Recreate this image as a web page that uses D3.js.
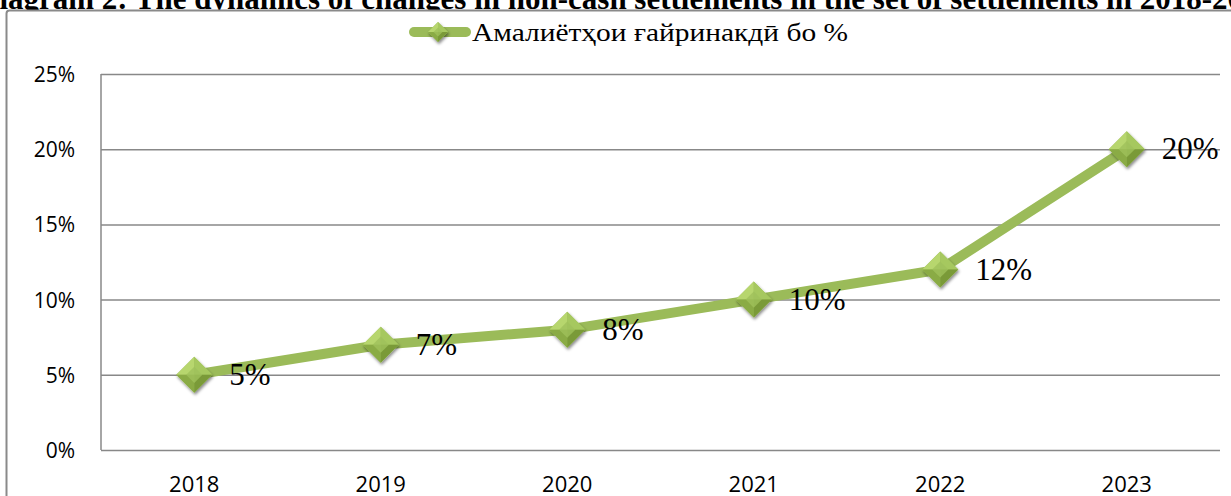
<!DOCTYPE html>
<html>
<head>
<meta charset="utf-8">
<script src="https://cdn.jsdelivr.net/npm/d3@7"></script>
<style>
  html, body { margin: 0; padding: 0; background: #fff; overflow: hidden; }
  svg { display: block; }
</style>
</head>
<body>
<div id="chart"></div>
<script>
var width = 1231,
    height = 496;

var titleText = "Diagram 2: The dynamics of changes in non-cash settlements in the set of settlements in 2018-2023";
var seriesName = "Амалиётҳои ғайринакдӣ бо %";
var years = ["2018", "2019", "2020", "2021", "2022", "2023"];
var shares = [0.05, 0.07, 0.08, 0.10, 0.12, 0.20];
var yTicks = [0, 0.05, 0.10, 0.15, 0.20, 0.25];

var lineGreen = "#9bbb59";
var serif = "'Liberation Serif', 'DejaVu Serif', 'Times New Roman', serif";

var margin = {top: 74, right: 11, bottom: 46, left: 101};

var svg = d3.select("#chart").append("svg")
    .attr("width", width)
    .attr("height", height);

var defs = svg.append("defs");

var shadow = defs.append("filter")
    .attr("id", "shadow")
    .attr("x", "-50%").attr("y", "-50%")
    .attr("width", "200%").attr("height", "200%");
shadow.append("feDropShadow")
    .attr("dx", 1).attr("dy", 2)
    .attr("stdDeviation", 1.5)
    .attr("flood-color", "#000")
    .attr("flood-opacity", 0.45);

// title, cut off by the top of the picture
svg.append("text")
    .attr("x", -23)
    .attr("y", 9)
    .style("font-family", serif)
    .style("font-weight", "bold")
    .style("font-size", "31px")
    .text(titleText);

// chart frame
svg.append("rect")
    .attr("x", 6.5)
    .attr("y", 10.5)
    .attr("width", 1240)
    .attr("height", 500)
    .attr("rx", 3)
    .attr("fill", "#fff")
    .attr("stroke", "#8a8a8a")
    .attr("stroke-width", 2);

var x = d3.scalePoint()
    .domain(years)
    .range([margin.left, width - margin.right])
    .padding(0.5);

var y = d3.scaleLinear()
    .domain([0, 0.25])
    .range([height - margin.bottom, margin.top]);

var fmt = d3.format(".0%");

// gridlines
var grid = svg.append("g")
    .attr("transform", "translate(" + margin.left + ",0)")
    .call(d3.axisLeft(y).tickValues(yTicks).tickSize(-(width - margin.right - margin.left)).tickFormat(""));
grid.select(".domain").remove();
grid.selectAll(".tick line")
    .attr("stroke", "#888")
    .attr("stroke-width", 1.5);

// y axis line and labels
svg.append("line")
    .attr("x1", margin.left).attr("x2", margin.left)
    .attr("y1", y(0.25)).attr("y2", y(0))
    .attr("stroke", "#888")
    .attr("stroke-width", 1.5);

svg.append("g")
  .selectAll("text")
    .data(yTicks)
  .enter().append("text")
    .attr("x", 75)
    .attr("y", function(d) { return y(d) + 8; })
    .attr("text-anchor", "end")
    .style("font-family", "'Open Sans', sans-serif")
    .style("font-size", "21px")
    .style("fill", "#000")
    .text(fmt);

// x labels
svg.append("g")
  .selectAll("text")
    .data(years)
  .enter().append("text")
    .attr("x", function(d) { return x(d); })
    .attr("y", 492)
    .attr("text-anchor", "middle")
    .style("font-family", "'Open Sans', sans-serif")
    .style("font-size", "22px")
    .style("fill", "#000")
    .text(function(d) { return d; });

// the line
var line = d3.line()
    .x(function(d, i) { return x(years[i]); })
    .y(function(d) { return y(d); });

svg.append("path")
    .datum(shares)
    .attr("d", line)
    .attr("fill", "none")
    .attr("stroke", lineGreen)
    .attr("stroke-width", 10)
    .attr("stroke-linejoin", "round");

// bevelled diamond marker
function diamond(g, r) {
  var facets = [
    {pts: [[0, -r], [-r, 0], [0, 0]], fill: "#b7d66e"},
    {pts: [[0, -r], [r, 0], [0, 0]], fill: "#a6c85f"},
    {pts: [[-r, 0], [0, r], [0, 0]], fill: "#8aab45"},
    {pts: [[r, 0], [0, r], [0, 0]], fill: "#7a9a38"}
  ];
  g.attr("filter", "url(#shadow)");
  g.append("path")
      .attr("d", "M0," + (-r) + "L" + r + ",0L0," + r + "L" + (-r) + ",0Z")
      .attr("fill", "#9bbb59");
  g.selectAll("path.f")
      .data(facets)
    .enter().append("path")
      .attr("class", "f")
      .attr("d", function(f) { return "M" + f.pts.join("L") + "Z"; })
      .attr("fill", function(f) { return f.fill; });
  var k = r * 0.45;
  g.append("path")
      .attr("d", "M0," + (-k) + "L" + k + ",0L0," + k + "L" + (-k) + ",0Z")
      .attr("fill", "#9fc15a")
      .attr("opacity", 0.8);
}

svg.append("g")
  .selectAll("g")
    .data(shares)
  .enter().append("g")
    .attr("transform", function(d, i) { return "translate(" + x(years[i]) + "," + y(d) + ")"; })
    .each(function() { diamond(d3.select(this), 18); });

// data labels
svg.append("g")
  .selectAll("text")
    .data(shares)
  .enter().append("text")
    .attr("x", function(d, i) { return x(years[i]) + 35; })
    .attr("y", function(d) { return y(d) + 10; })
    .style("font-family", serif)
    .style("font-size", "31px")
    .style("fill", "#000")
    .text(fmt);

// legend
var legend = svg.append("g");
legend.append("line")
    .attr("x1", 414).attr("x2", 466)
    .attr("y1", 32).attr("y2", 32)
    .attr("stroke", lineGreen)
    .attr("stroke-width", 10)
    .attr("stroke-linecap", "round");
legend.append("g")
    .attr("transform", "translate(438,32)")
    .each(function() { diamond(d3.select(this), 10); });
legend.append("text")
    .attr("x", 472)
    .attr("y", 41)
    .attr("textLength", 376)
    .attr("lengthAdjust", "spacingAndGlyphs")
    .style("font-family", serif)
    .style("font-size", "25px")
    .style("fill", "#000")
    .text(seriesName);
</script>
</body>
</html>
